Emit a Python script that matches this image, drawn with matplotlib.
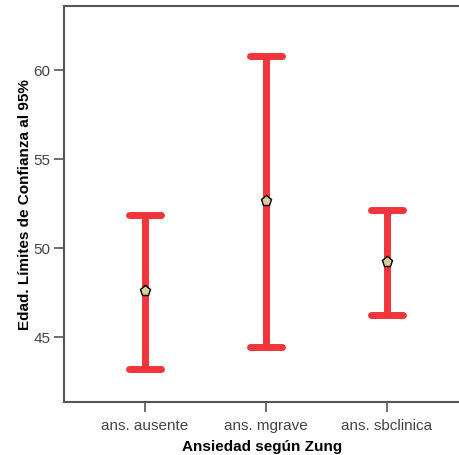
import matplotlib
matplotlib.use('Agg')
import matplotlib.pyplot as plt

# data
groups = ['ans. ausente', 'ans. mgrave', 'ans. sbclinica']
means = [47.55, 52.65, 49.22]
lower = [43.2, 44.45, 46.2]
upper = [51.85, 60.8, 52.15]
yticks = [45, 50, 55, 60]

plt.rcParams['font.family'] = ['Liberation Sans', 'DejaVu Sans']

fig = plt.figure(figsize=(4.6, 4.56), dpi=100)
ax = fig.add_axes([0.140, 0.117, 0.86, 0.868])

x = list(range(len(groups)))
red = '#F0353D'
for i in x:
    ax.plot([i, i], [lower[i], upper[i]], color=red, lw=5, solid_capstyle='butt', zorder=2)
    for v in (lower[i], upper[i]):
        ax.plot([i - 0.13, i + 0.13], [v, v], color=red, lw=5, solid_capstyle='round', zorder=2)
ax.plot(x, means, linestyle='none', marker='p', markersize=8,
        markerfacecolor='#D6CE9C', markeredgecolor='black', markeredgewidth=1.0, zorder=3)

ax.set_xlim(-0.665, 2.603)
ax.set_ylim(41.35, 63.6)
ax.set_xticks(x)
ax.set_xticklabels(groups)
ax.set_yticks(yticks)

for s in ['left', 'top', 'bottom']:
    ax.spines[s].set_color('#555555')
    ax.spines[s].set_linewidth(1.5)
ax.spines['right'].set_visible(False)
ax.tick_params(axis='both', colors='#555555', length=7, width=1.2, labelsize=11,
               labelcolor='#444444')
ax.tick_params(axis='x', pad=5)
ax.tick_params(axis='y', pad=3)

ax.set_xlabel('Ansiedad según Zung', fontsize=11, fontweight='bold', labelpad=5)
ax.set_ylabel('Edad. Límites de Confianza al 95%', fontsize=11, fontweight='bold', labelpad=1)

fig.savefig('out.png', dpi=100)
